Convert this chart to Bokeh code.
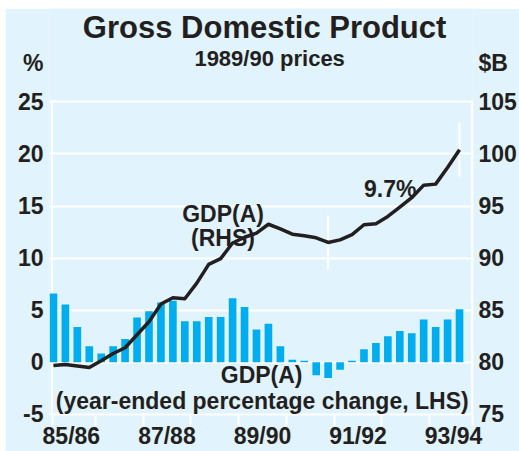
from bokeh.plotting import figure
from bokeh.models import Range1d, LinearAxis, FixedTicker, Spacer
from bokeh.layouts import column, row
from bokeh.core.properties import value
from bokeh.embed import file_html
from bokeh.resources import INLINE

# ---------------- data ----------------
quarters = ["Sep-85", "Dec-85",
            "Mar-86", "Jun-86", "Sep-86", "Dec-86",
            "Mar-87", "Jun-87", "Sep-87", "Dec-87",
            "Mar-88", "Jun-88", "Sep-88", "Dec-88",
            "Mar-89", "Jun-89", "Sep-89", "Dec-89",
            "Mar-90", "Jun-90", "Sep-90", "Dec-90",
            "Mar-91", "Jun-91", "Sep-91", "Dec-91",
            "Mar-92", "Jun-92", "Sep-92", "Dec-92",
            "Mar-93", "Jun-93", "Sep-93", "Dec-93",
            "Mar-94"]
# GDP(A) year-ended percentage change (LHS, %)
growth = [6.6, 5.55, 3.4, 1.55, 0.85, 1.55, 2.25, 4.3, 4.9, 5.75,
          5.9, 3.95, 3.95, 4.35, 4.35, 6.15, 5.3, 3.15, 3.7, 1.55,
          0.25, 0.15, -1.25, -1.5, -0.7, 0.15, 1.25, 1.85, 2.5, 3.0,
          2.8, 4.1, 3.4, 4.1, 5.1]
# GDP(A) level, 1989/90 prices (RHS, $B)
level = [79.7, 79.8, 79.65, 79.5, 80.15, 80.85, 81.4, 82.65, 83.9, 85.6,
         86.2, 86.1, 87.6, 89.4, 89.95, 91.45, 92.0, 92.4, 93.25, 92.8,
         92.3, 92.15, 91.95, 91.5, 91.75, 92.25, 93.2, 93.3, 94.0, 94.9,
         95.8, 97.0, 97.1, 98.7, 100.4]
year_labels = ["85/86", "87/88", "89/90", "91/92", "93/94"]
left_ticks = [-5, 0, 5, 10, 15, 20, 25]
right_ticks = [75, 80, 85, 90, 95, 100, 105]
left_unit, right_unit = "%", "$B"
title_text = "Gross Domestic Product"
subtitle_text = "1989/90 prices"
growth_note = "9.7%"

# ---------------- style / layout constants ----------------
BG = "#e1f3fc"
BAR = "#00aeef"
INK = "#231f20"
FONT = "Liberation Sans"
FS = "23px"

X0, X1 = -0.33, 35.17            # frame spans these quarter positions
FRAME_L, FRAME_R = -0.12, 35.06  # white frame lines
Y0, Y1 = -5.1, 33.95             # frame extends up to hold the titles
UNIT_ROW = 28.7                  # height of the "%" / "$B" row
OFFSET = right_ticks[0] - left_ticks[0]

x = list(range(len(quarters)))

p = figure(width=514, height=443, output_backend="svg", toolbar_location=None,
           x_range=Range1d(X0, X1), y_range=Range1d(Y0, Y1),
           min_border_left=44, min_border_right=44, min_border_top=0,
           min_border_bottom=33)
p.title.visible = False
p.extra_y_ranges = {"rhs": Range1d(Y0 + OFFSET, Y1 + OFFSET)}
p.background_fill_color = BG
p.border_fill_color = BG
p.outline_line_color = None

p.xgrid.visible = False
p.ygrid.ticker = FixedTicker(ticks=left_ticks)
p.ygrid.grid_line_color = "white"
p.ygrid.grid_line_width = 2

def style_axis(ax):
    ax.axis_line_color = None
    ax.major_tick_line_color = None
    ax.minor_tick_line_color = None
    ax.major_tick_out = 0
    ax.major_tick_in = 0
    ax.major_label_text_font = FONT
    ax.major_label_text_font_size = FS
    ax.major_label_text_font_style = "bold"
    ax.major_label_text_color = INK

# left axis (tick values plus the unit label above them)
la = p.left[0]
la.ticker = FixedTicker(ticks=left_ticks + [UNIT_ROW])
ovl = {t: str(t) for t in left_ticks}
ovl[UNIT_ROW] = left_unit
la.major_label_overrides = ovl
style_axis(la)
la.major_label_standoff = 6

# right axis
ra = LinearAxis(y_range_name="rhs",
                ticker=FixedTicker(ticks=right_ticks + [UNIT_ROW + OFFSET]))
ovr = {t: str(t) for t in right_ticks}
ovr[UNIT_ROW + OFFSET] = right_unit
ra.major_label_overrides = ovr
style_axis(ra)
ra.major_label_standoff = 5
p.add_layout(ra, "right")

# bottom axis: labels at year centres, white tick marks at year boundaries
label_centres = [quarters.index("Sep-" + lab[:2]) + 1.5 for lab in year_labels]
boundaries = [i - 0.5 for i, q in enumerate(quarters) if q.startswith("Sep") and i > 0]
ba = p.below[0]
ba.ticker = FixedTicker(ticks=label_centres,
                        minor_ticks=[FRAME_L] + boundaries + [FRAME_R])
ba.major_label_overrides = {c: lab for c, lab in zip(label_centres, year_labels)}
style_axis(ba)
ba.minor_tick_line_color = "white"
ba.minor_tick_line_width = 2
ba.minor_tick_in = 0
ba.minor_tick_out = 10
ba.major_label_standoff = -3

# white side frame lines
p.segment(x0=[FRAME_L, FRAME_R], x1=[FRAME_L, FRAME_R],
          y0=[left_ticks[0]] * 2, y1=[left_ticks[-1]] * 2,
          line_color="white", line_width=2)

# bars
p.vbar(x=x, top=growth, bottom=0, width=0.64, fill_color=BAR, line_color=None)

# texts
txt = dict(text_font=value(FONT), text_font_size=FS, text_font_style="bold",
           text_color=INK, text_align="center", text_baseline="middle")
p.text(x=[14.2], y=[14.24], text=["GDP(A)"], **txt)
p.text(x=[14.2], y=[11.95], text=["(RHS)"], **txt)
p.text(x=[28.2], y=[16.6], text=[growth_note], **txt)
p.text(x=[17.43], y=[-1.24], text=["GDP(A)"], **txt)
p.text(x=[17.48], y=[-3.67], text=["(year-ended percentage change, LHS)"], **txt)
p.text(x=[17.68], y=[32.11], text=[title_text], **dict(txt, text_font_size="31px"))
p.text(x=[18.1], y=[29.11], text=[subtitle_text], **dict(txt, text_font_size="22px"))

# white markers at trough and latest point
peak = max(range(25), key=lambda i: level[i])
trough = min(range(peak, len(level)), key=lambda i: level[i])
last = len(level) - 1
half = 2.6
p.segment(x0=[trough, last], x1=[trough, last],
          y0=[level[trough] - half, level[last] - half],
          y1=[level[trough] + half, level[last] + half],
          y_range_name="rhs", line_color="white", line_width=2)

# level line
p.line(x, level, y_range_name="rhs", line_color=INK, line_width=3.5,
       line_join="round")

page = column(Spacer(height=8), row(Spacer(width=5), p))
open("out.html", "w").write(file_html(page, INLINE))
